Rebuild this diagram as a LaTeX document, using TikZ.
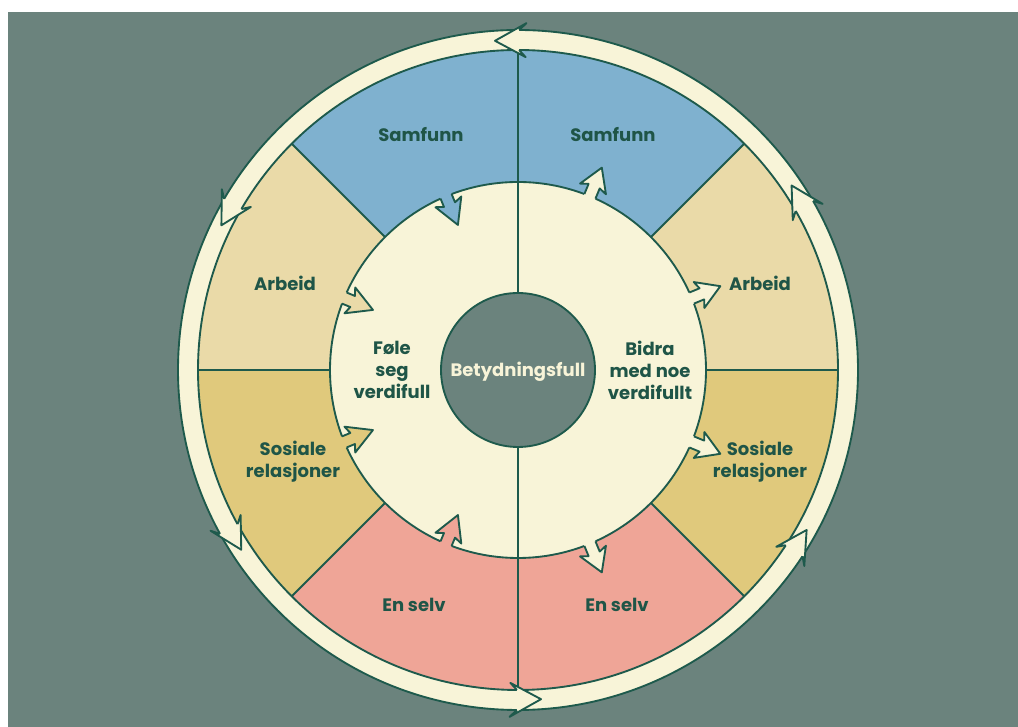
\documentclass[tikz,border=0pt]{standalone}
\usepackage{fontspec}
\setmainfont{Poppins}

\definecolor{fundo}{HTML}{6B837D}
\definecolor{creme}{HTML}{F8F4D8}
\definecolor{azul}{HTML}{7FB1CF}
\definecolor{areia}{HTML}{EADAA8}
\definecolor{ouro}{HTML}{E0C97C}
\definecolor{salmao}{HTML}{EFA597}
\definecolor{verde}{HTML}{1E5A4C}
\definecolor{textoverde}{HTML}{1F5547}

\tikzset{
  contorno/.style={draw=verde, line width=1.4pt, line join=round},
  rotulo/.style={text=textoverde, font=\fontsize{13.5}{16.5}\selectfont\bfseries, align=center},
}

% seta do anel externo, ponta no angulo #1
\newcommand{\setaanel}[1]{%
  \begin{scope}[rotate=#1]
    \fill[creme] (-4.2:340) -- (-5.4:347) -- (0:330) -- (-5.4:313) -- (-4.2:320) -- cycle;
    \draw[contorno] (-4.2:340) -- (-5.4:347) -- (0:330) -- (-5.4:313) -- (-4.2:320);
  \end{scope}}

% seta pequena para dentro do disco
\newcommand{\setaentra}[2]{%
  \begin{scope}[rotate=#1]
    \fill[#2] (195,6) -- (179,6) -- (182,14) -- (157,0) -- (182,-14) -- (179,-6) -- (195,-6) -- cycle;
    \draw[contorno] (188,6) -- (179,6) -- (182,14) -- (157,0) -- (182,-14) -- (179,-6) -- (188,-6);
  \end{scope}}

% seta pequena para fora do disco
\newcommand{\setasai}[1]{%
  \begin{scope}[rotate=#1]
    \fill[creme] (181,6) -- (199,6) -- (196,14) -- (219,0) -- (196,-14) -- (199,-6) -- (181,-6) -- cycle;
    \draw[contorno] (188,6) -- (199,6) -- (196,14) -- (219,0) -- (196,-14) -- (199,-6) -- (188,-6);
  \end{scope}}

\begin{document}
\begin{tikzpicture}[x=0.75pt,y=0.75pt]
  \useasboundingbox (0,0) rectangle (1018,727);
  % Fundo
  \fill[fundo] (8,0) rectangle (1018,715);

  \begin{scope}[shift={(518,357)}]
    % Anel externo
    \filldraw[creme, contorno] (0,0) circle (340);

    % Setores
    \fill[azul]   (0,0) -- (45:320) arc[start angle=45, end angle=135, radius=320] -- cycle;
    \fill[areia]  (0,0) -- (135:320) arc[start angle=135, end angle=180, radius=320] -- cycle;
    \fill[areia]  (0,0) -- (0:320) arc[start angle=0, end angle=45, radius=320] -- cycle;
    \fill[ouro]   (0,0) -- (180:320) arc[start angle=180, end angle=225, radius=320] -- cycle;
    \fill[ouro]   (0,0) -- (-45:320) arc[start angle=-45, end angle=0, radius=320] -- cycle;
    \fill[salmao] (0,0) -- (225:320) arc[start angle=225, end angle=315, radius=320] -- cycle;
    \draw[contorno] (0,0) circle (320);

    % Divisas
    \draw[contorno] (0:320) -- (180:320);
    \draw[contorno] (45:320) -- (225:320);
    \draw[contorno] (135:320) -- (315:320);
    \draw[contorno] (90:320) -- (270:320);

    % Setas do anel
    \setaanel{94}
    \setaanel{154}
    \setaanel{213}
    \setaanel{274}
    \setaanel{331}
    \setaanel{34}

    % Disco
    \filldraw[creme, contorno] (0,0) circle (188);
    \draw[contorno] (90:188) -- (270:188);

    % Setas do disco
    \setaentra{112.5}{azul}
    \setaentra{157.5}{areia}
    \setaentra{202.5}{ouro}
    \setaentra{247.5}{salmao}
    \setasai{67.5}
    \setasai{22.5}
    \setasai{-22.5}
    \setasai{-67.5}

    % Centro
    \filldraw[fundo, contorno] (0,0) circle (77);

    \node[rotulo] (samfunnE) at (-97,235)  {Samfunn};
    \node[rotulo] (samfunnD) at (95,235)   {Samfunn};
    \node[rotulo] (arbeidE)  at (-233,87)  {Arbeid};
    \node[rotulo] (arbeidD)  at (242,87)   {Arbeid};
    \node[rotulo] (sosialeE) at (-225,-92) {Sosiale\\relasjoner};
    \node[rotulo] (sosialeD) at (242,-92)  {Sosiale\\relasjoner};
    \node[rotulo] (selvE)    at (-104,-235) {En selv};
    \node[rotulo] (selvD)    at (99,-235)  {En selv};

    \node[rotulo] (foele) at (-126,0) {Føle\\seg\\verdifull};
    \node[rotulo] (bidra) at (132,0)  {Bidra\\med noe\\verdifullt};
    \node[rotulo, text=creme] (betydning) at (0,-2) {Betydningsfull};
  \end{scope}
\end{tikzpicture}
\end{document}
